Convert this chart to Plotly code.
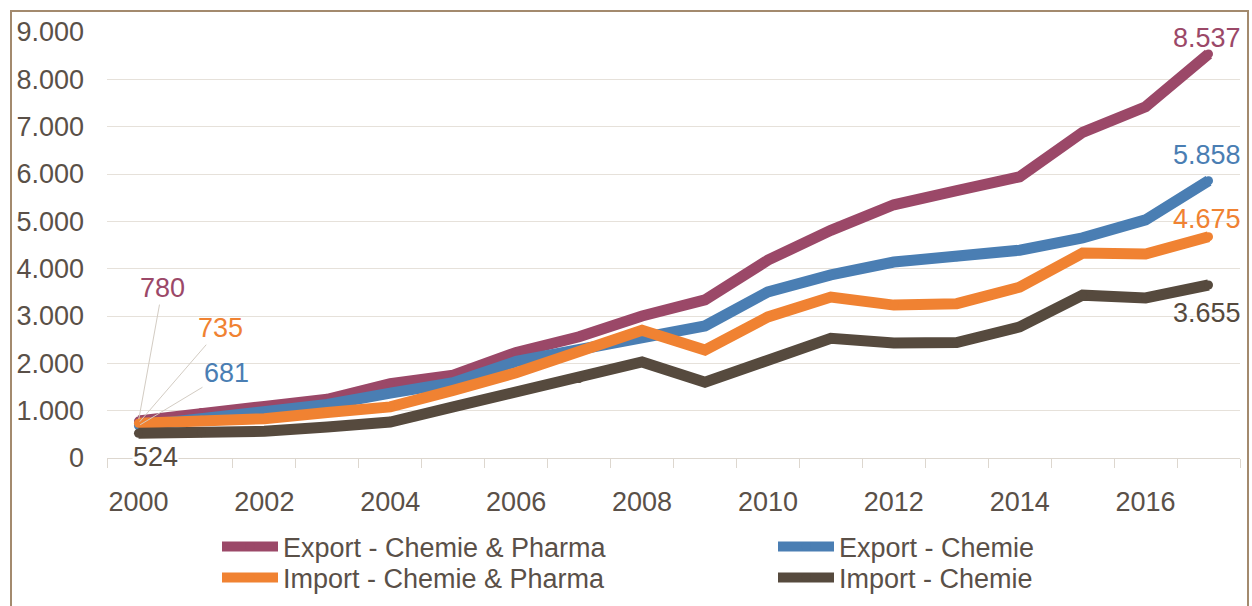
import plotly.graph_objects as go

# Jahreswerte (Mio. EUR)
years = list(range(2000, 2018))
export_chem_pharma = [780, 960, 1090, 1240, 1570, 1750, 2230, 2560, 3000, 3340,
                      4180, 4810, 5350, 5650, 5940, 6880, 7420, 8537]
export_chem = [681, 840, 950, 1130, 1370, 1590, 2040, 2300, 2540, 2790,
               3510, 3870, 4140, 4250, 4390, 4650, 5030, 5858]
import_chem_pharma = [735, 800, 830, 960, 1080, 1430, 1800, 2250, 2700, 2280,
                      2980, 3400, 3230, 3260, 3610, 4330, 4310, 4675]
import_chem = [524, 535, 565, 655, 760, 1080, 1390, 1680, 2030, 1600,
               2070, 2530, 2430, 2440, 2770, 3440, 3380, 3655]

series_names = ["Export - Chemie & Pharma", "Export - Chemie",
                "Import - Chemie & Pharma", "Import - Chemie"]
series_values = [export_chem_pharma, export_chem, import_chem_pharma, import_chem]
series_colors = ["#9B4868", "#4A7EB3", "#F08232", "#564A3E"]
legend_ids = ["legend", "legend2", "legend3", "legend4"]

y_ticks = list(range(0, 9001, 1000))
x_ticks = list(range(2000, 2017, 2))

FONT = "Liberation Sans, Arial, sans-serif"
TEXT = "#5A5048"
GRID = "#E6E1DA"
AXIS = "#DDD7CF"

W, H = 1252, 606
L, R, T, B = 107, 12, 32, 148
PW, PH = W - L - R, H - T - B


def px_x(px):
    return (px - L) / PW


def px_y(py):
    return (H - B - py) / PH


def fmt(v):
    return f"{v:,}".replace(",", ".")


fig = go.Figure()
for name, vals, col, lg in zip(series_names, series_values, series_colors, legend_ids):
    fig.add_trace(go.Scatter(
        x=years, y=vals, name=name, mode="lines+markers",
        line=dict(color=col, width=11),
        marker=dict(color=col, size=9, line=dict(width=0)),
        legend=lg, hoverinfo="skip",
    ))

# first-year labels with leader lines
first_labels = [
    (0, 24, -133),   # Export C&P
    (2, 82, -95),    # Import C&P
    (1, 88, -53),    # Export Chemie
]
for idx, ax, ay in first_labels:
    fig.add_annotation(
        x=years[0], y=series_values[idx][0], text=fmt(series_values[idx][0]),
        showarrow=True, arrowhead=0, arrowwidth=1, arrowcolor="#D3CCC3",
        ax=ax, ay=ay, font=dict(family=FONT, size=27, color=series_colors[idx]),
        standoff=2,
    )
fig.add_annotation(
    x=years[0], y=import_chem[0], text=fmt(import_chem[0]), showarrow=False,
    xshift=17, yshift=-24, bgcolor="white", borderpad=0,
    font=dict(family=FONT, size=27, color=series_colors[3]),
)

# last-year labels
end_shifts = [16, 26, 18, -28]
for vals, col, ys in zip(series_values, series_colors, end_shifts):
    fig.add_annotation(
        x=years[-1], y=vals[-1], text=fmt(vals[-1]), showarrow=False,
        xshift=-2, yshift=ys, font=dict(family=FONT, size=27, color=col),
    )

# outer frame
fig.add_shape(type="rect", xref="paper", yref="paper",
              x0=px_x(11), x1=px_x(1248), y0=px_y(620), y1=px_y(11),
              line=dict(color="#A38A6E", width=2), fillcolor="rgba(0,0,0,0)",
              layer="below")

# legend grid: two columns, two rows
legend_pos = {"legend": (217, 547), "legend2": (773, 547),
              "legend3": (217, 578), "legend4": (773, 578)}
legend_layout = {}
for lg, (lx, ly) in legend_pos.items():
    legend_layout[lg] = dict(
        xref="paper", yref="container",
        x=px_x(lx), y=1 - ly / H, xanchor="left", yanchor="middle",
        itemwidth=56, bgcolor="rgba(0,0,0,0)",
        font=dict(family=FONT, size=27, color=TEXT),
    )

fig.update_layout(
    width=W, height=H,
    margin=dict(l=L, r=R, t=T, b=B, pad=0),
    paper_bgcolor="white", plot_bgcolor="white",
    separators=",.",
    font=dict(family=FONT, size=27, color=TEXT),
    showlegend=True,
    **legend_layout,
    xaxis=dict(
        range=[1999.5, 2017.5], tickvals=x_ticks, ticktext=[str(v) for v in x_ticks],
        ticks="", showgrid=False, zeroline=False, automargin=False,
        showline=True, linecolor=AXIS, linewidth=1,
        minor=dict(tick0=1999.5, dtick=1, ticks="outside", ticklen=9,
                   tickcolor=AXIS, showgrid=False),
        tickfont=dict(family=FONT, size=27, color=TEXT),
        ticklabelstandoff=20,
    ),
    yaxis=dict(
        range=[0, 9000], tickvals=y_ticks, tickformat=",d", automargin=False,
        showgrid=True, gridcolor=GRID, gridwidth=1, zeroline=False,
        showline=False, ticks="",
        tickfont=dict(family=FONT, size=27, color=TEXT),
        ticklabelstandoff=22,
    ),
)

fig.write_html("out.html")
